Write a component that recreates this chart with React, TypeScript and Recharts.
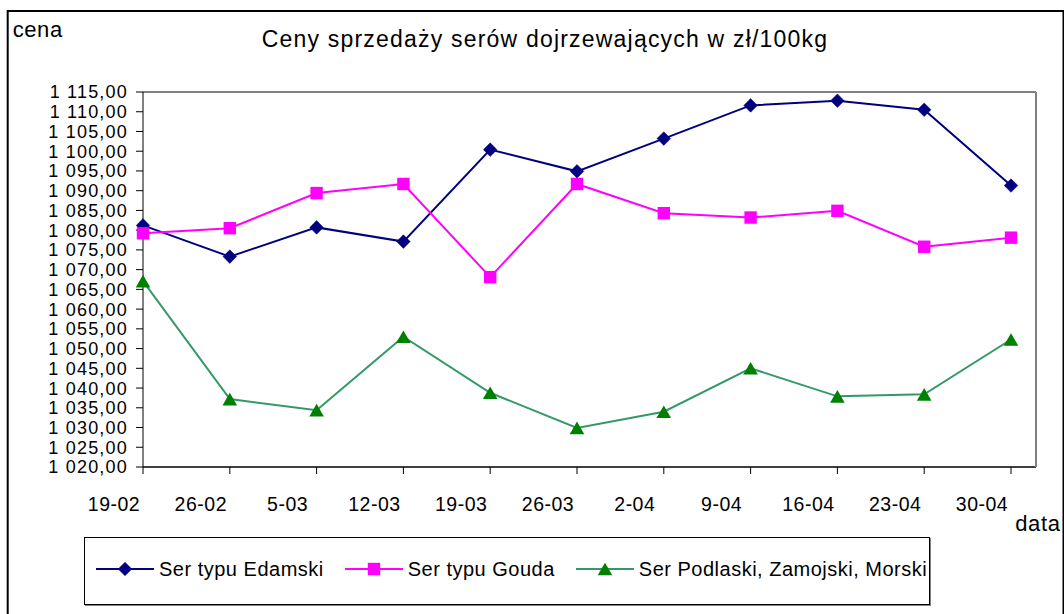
import React from 'react';
import { LineChart, Line, XAxis, YAxis, CartesianGrid, ReferenceLine } from 'recharts';

const categories = ['19-02', '26-02', '5-03', '12-03', '19-03', '26-03', '2-04', '9-04', '16-04', '23-04', '30-04'];
const edamski = [1081.2, 1073.3, 1080.7, 1077.1, 1100.4, 1094.9, 1103.2, 1111.6, 1112.8, 1110.5, 1091.3];
const gouda = [1079.2, 1080.5, 1089.4, 1091.7, 1068.1, 1091.7, 1084.3, 1083.2, 1084.9, 1075.8, 1078.1];
const podlaski = [1067.1, 1037.2, 1034.4, 1053.0, 1038.8, 1029.9, 1034.0, 1045.0, 1037.9, 1038.4, 1052.3];
const yTicks = [1020, 1025, 1030, 1035, 1040, 1045, 1050, 1055, 1060, 1065, 1070, 1075, 1080, 1085, 1090, 1095, 1100, 1105, 1110, 1115];

const titleText = 'Ceny sprzedaży serów dojrzewających w zł/100kg';
const yAxisTitle = 'cena';
const xAxisTitle = 'data';

const series = [
  { key: 'edamski', name: 'Ser typu Edamski', line: '#000080', fill: '#000080', shape: 'diamond' },
  { key: 'gouda', name: 'Ser typu Gouda', line: '#FF00FF', fill: '#FF00FF', shape: 'square' },
  { key: 'podlaski', name: 'Ser Podlaski, Zamojski, Morski', line: '#339966', fill: '#008000', shape: 'triangle' },
];

const data = categories.map((c, i) => ({
  cat: c,
  edamski: edamski[i],
  gouda: gouda[i],
  podlaski: podlaski[i],
}));

const FONT = '"Liberation Sans", Arial, sans-serif';

const fmt = (v: number) => {
  const s = v.toFixed(2).replace('.', ',');
  const [int, dec] = s.split(',');
  const withSpace = int.replace(/\B(?=(\d{3})+(?!\d))/g, ' ');
  return withSpace + ',' + dec;
};

function Marker({ shape, cx, cy, fill }: { shape: string; cx: number; cy: number; fill: string }) {
  if (cx == null || cy == null) return null;
  if (shape === 'diamond') {
    const r = 6.8;
    return <polygon points={`${cx},${cy - r} ${cx + r},${cy} ${cx},${cy + r} ${cx - r},${cy}`} fill={fill} stroke={fill} strokeWidth={0.5} />;
  }
  if (shape === 'square') {
    const h = 6.2;
    return <rect x={cx - h} y={cy - h} width={h * 2} height={h * 2} fill={fill} />;
  }
  const w = 7.3;
  const h = 6.3;
  return <polygon points={`${cx},${cy - h} ${cx + w},${cy + h} ${cx - w},${cy + h}`} fill={fill} />;
}

const makeDot = (shape: string, fill: string) => (props: any) => (
  <Marker key={`${shape}-${props.index}`} shape={shape} cx={props.cx} cy={props.cy} fill={fill} />
);

const XTick = (props: any) => {
  const { x, y, payload } = props;
  return (
    <text x={x - 29} y={y} dy="0.71em" textAnchor="middle" fontFamily={FONT} fontSize={19.5} fill="#000" style={{ letterSpacing: '0.5px' }}>
      {payload.value}
    </text>
  );
};

const YTick = (props: any) => {
  const { x, y, payload } = props;
  return (
    <text x={x} y={y} dy="0.36em" textAnchor="end" fontFamily={FONT} fontSize={18} fill="#000" style={{ letterSpacing: '1.2px' }}>
      {fmt(payload.value)}
    </text>
  );
};

function LegendBox() {
  return (
    <div
      style={{
        position: 'absolute',
        left: 84,
        top: 537,
        width: 846,
        height: 68,
        boxSizing: 'border-box',
        border: '1px solid #000',
        boxShadow: '1px 1px 0 #808080',
        background: '#fff',
        display: 'flex',
        alignItems: 'center',
        paddingLeft: 11,
        paddingBottom: 4,
        gap: 21,
        fontFamily: FONT,
        fontSize: 20,
        letterSpacing: '0.5px',
        color: '#000',
      }}
    >
      {series.map((s) => (
        <div key={s.key} style={{ display: 'flex', alignItems: 'center', gap: 5 }}>
          <svg width={58} height={16}>
            <line x1={0} y1={8} x2={58} y2={8} stroke={s.line} strokeWidth={2} />
            <Marker shape={s.shape} cx={29} cy={8} fill={s.fill} />
          </svg>
          <span style={{ whiteSpace: 'nowrap' }}>{s.name}</span>
        </div>
      ))}
    </div>
  );
}

export default function App() {
  return (
    <div style={{ position: 'fixed', left: 0, top: 0, width: 1064, height: 614, overflow: 'hidden', background: '#fff' }}>
      <div style={{ position: 'absolute', left: 8, top: 8 }}>
        <LineChart
          width={1056}
          height={606}
          data={data}
          margin={{ top: 84, right: 27, left: 0, bottom: 107 }}
        >
          <CartesianGrid vertical={false} stroke="#000" strokeWidth={1} />
          <XAxis
            dataKey="cat"
            padding={{ left: 0, right: 25 }}
            height={40}
            tickSize={7}
            tickMargin={23}
            tickLine={{ stroke: '#000' }}
            axisLine={{ stroke: '#000' }}
            tick={<XTick />}
            interval={0}
          />
          <YAxis
            yAxisId="left"
            width={135}
            domain={[1020, 1115]}
            ticks={yTicks}
            interval={0}
            tickSize={7}
            tickMargin={8}
            tickLine={{ stroke: '#000' }}
            axisLine={{ stroke: '#000' }}
            tick={<YTick />}
            allowDataOverflow
          />
          <YAxis
            yAxisId="right"
            orientation="right"
            width={1}
            domain={[1020, 1115]}
            tick={false}
            tickLine={false}
            axisLine={{ stroke: '#808080', strokeWidth: 2 }}
          />
          <ReferenceLine yAxisId="left" y={1115} stroke="#808080" strokeWidth={2} />
          {series.map((s) => (
            <Line
              key={s.key}
              yAxisId="left"
              type="linear"
              dataKey={s.key}
              name={s.name}
              stroke={s.line}
              strokeWidth={2}
              dot={makeDot(s.shape, s.fill)}
              activeDot={false}
              isAnimationActive={false}
            />
          ))}
        </LineChart>
      </div>
      <svg width={1064} height={614} style={{ position: 'absolute', left: 0, top: 0, pointerEvents: 'none' }}>
        <rect x={7.7} y={11} width={1055.8} height={640} fill="none" stroke="#000" strokeWidth={2} />
        <text x={545} y={47} textAnchor="middle" fontFamily={FONT} fontSize={23} fill="#000" style={{ letterSpacing: '1.2px' }}>
          {titleText}
        </text>
        <text x={12.7} y={37} fontFamily={FONT} fontSize={22} fill="#000" style={{ letterSpacing: '0.6px' }}>
          {yAxisTitle}
        </text>
        <text x={1060.5} y={530.7} textAnchor="end" fontFamily={FONT} fontSize={22} fill="#000" style={{ letterSpacing: '0.6px' }}>
          {xAxisTitle}
        </text>
      </svg>
      <LegendBox />
    </div>
  );
}
